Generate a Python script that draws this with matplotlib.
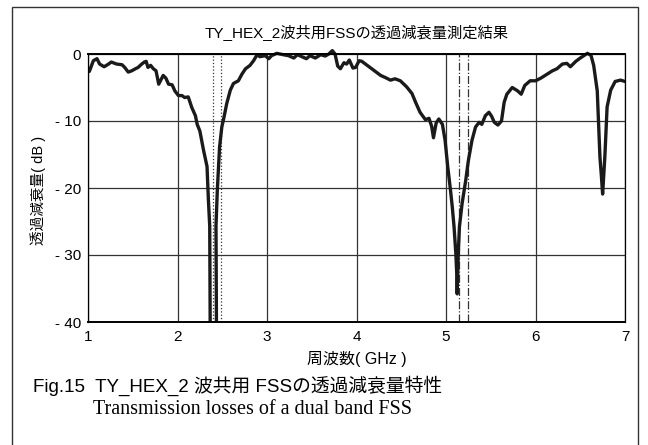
import matplotlib
matplotlib.use("Agg")
import matplotlib.pyplot as plt
from matplotlib.patches import Rectangle

plt.rcParams['font.family'] = ['Liberation Sans', 'Noto Sans CJK JP']

# 測定データ (周波数 GHz, 透過減衰量 dB)
freq = [1.00, 1.015, 1.06, 1.10, 1.13, 1.18, 1.23, 1.26, 1.32, 1.38, 1.41, 1.45,
        1.49, 1.53, 1.56, 1.60, 1.63, 1.65, 1.67, 1.70, 1.73, 1.76, 1.79, 1.82,
        1.84, 1.87, 1.90, 1.94, 1.97, 2.01, 2.05, 2.08, 2.12, 2.16, 2.20, 2.22,
        2.25, 2.29, 2.33, 2.345, 2.36, 2.365, 2.40, 2.435, 2.43, 2.445, 2.47,
        2.495, 2.52, 2.55, 2.59, 2.625, 2.68, 2.72, 2.76, 2.81, 2.85, 2.89, 2.92,
        2.98, 3.02, 3.05, 3.11, 3.18, 3.24, 3.30, 3.34, 3.39, 3.44, 3.48, 3.54,
        3.60, 3.65, 3.69, 3.73, 3.76, 3.79, 3.82, 3.86, 3.89, 3.92, 3.96, 3.99,
        4.03, 4.06, 4.12, 4.19, 4.27, 4.32, 4.38, 4.43, 4.49, 4.56, 4.62, 4.66,
        4.71, 4.77, 4.81, 4.84, 4.86, 4.89, 4.92, 4.96, 4.99, 5.02, 5.05, 5.07,
        5.09, 5.11, 5.12, 5.125, 5.135, 5.15, 5.18, 5.22, 5.25, 5.29, 5.33, 5.37,
        5.40, 5.44, 5.48, 5.51, 5.54, 5.58, 5.62, 5.65, 5.68, 5.74, 5.80, 5.84,
        5.88, 5.94, 6.00, 6.06, 6.13, 6.19, 6.24, 6.30, 6.35, 6.39, 6.45, 6.50,
        6.58, 6.62, 6.65, 6.69, 6.72, 6.735, 6.75, 6.775, 6.80, 6.84, 6.89, 6.95,
        7.00]
loss = [-2.2, -2.6, -1.0, -0.7, -1.5, -1.9, -1.5, -1.2, -1.5, -1.6, -2.0, -2.7,
        -2.5, -2.2, -2.0, -1.5, -1.2, -1.1, -2.0, -1.7, -2.2, -2.5, -4.5, -3.7,
        -3.2, -3.6, -4.5, -4.6, -5.5, -6.2, -6.2, -6.5, -6.4, -8.0, -9.2, -10.5,
        -11.5, -14.3, -16.8, -21.7, -25.7, -40.0, -50.0, -40.0, -25.7, -20.3, -13.9,
        -10.9, -9.4, -7.4, -5.4, -4.4, -4.0, -3.0, -2.2, -1.7, -1.0, -0.1, -0.4,
        -0.25, -0.7, -0.25, 0.1, -0.1, -0.25, -0.6, -0.1, -0.4, -0.7, -0.25, -0.6,
        -0.1, -0.3, 0.0, 0.5, 0.0, -1.8, -2.2, -1.3, -1.5, -0.9, -2.1, -2.0,
        -1.0, -1.1, -1.7, -2.4, -3.2, -3.5, -3.9, -3.7, -4.0, -4.9, -5.9, -7.2,
        -8.7, -9.8, -9.6, -10.8, -12.5, -10.3, -9.7, -10.5, -12.9, -16.9, -20.3, -22.8,
        -25.8, -29.8, -32.8, -35.8, -30.4, -25.8, -22.3, -18.9, -15.9, -12.9, -10.9, -10.2,
        -10.5, -9.2, -8.7, -9.3, -10.2, -10.6, -10.0, -7.2, -6.0, -5.0, -5.5, -6.0,
        -4.7, -4.0, -4.0, -3.6, -3.0, -2.5, -2.2, -1.5, -1.4, -1.9, -1.1, -0.6,
        0.1, -0.2, -1.7, -5.5, -15.4, -18.0, -20.9, -15.3, -7.9, -5.4, -4.1, -3.9,
        -4.1]

band_24 = [2.4, 2.4835]
band_5 = [5.15, 5.25]

xticks = [1, 2, 3, 4, 5, 6, 7]
yticks = [0, -10, -20, -30, -40]
ylabels = ['0', '- 10', '- 20', '- 30', '- 40']

fig = plt.figure(figsize=(6.48, 4.45), dpi=100)
ax = fig.add_axes([88 / 648, 1 - 322 / 445, 537 / 648, 268 / 445])

ax.set_xlim(1, 7)
ax.set_ylim(-40, 0)
ax.set_xticks(xticks)
ax.set_xticklabels([str(t) for t in xticks])
ax.set_yticks(yticks)
ax.set_yticklabels(ylabels)
ax.tick_params(length=0, labelsize=11, pad=5)
ax.tick_params(axis='x', pad=6)
ax.grid(True, color='#333333', linewidth=0.9)
ax.set_axisbelow(True)
for side in ['top', 'bottom']:
    ax.spines[side].set_linewidth(1.4)
for side in ['left', 'right']:
    ax.spines[side].set_linewidth(0.9)

for f in band_24:
    ax.axvline(f, color='#333333', linestyle=':', linewidth=0.9)
for f in band_5:
    ax.axvline(f, color='#333333', linestyle='-.', linewidth=0.9)

line, = ax.plot(freq, loss, color='#1a1a1a', linewidth=2.4,
                solid_joinstyle='round', solid_capstyle='round')
# 上側は0dBを少し超える部分を描くため、下側だけ切る
clip = Rectangle((1, -40), 6, 42, transform=ax.transData)
line.set_clip_path(clip)

ax.set_xlabel('周波数( GHz )', fontsize=11.5, labelpad=5)
fig.text(38 / 648, 1 - 190 / 445, '透過減衰量( dB )', rotation=90,
         ha='center', va='center', fontsize=10.5)

fig.text(357 / 648, 1 - 33 / 445, 'TY_HEX_2波共用FSSの透過減衰量測定結果',
         ha='center', va='center', fontsize=11)
fig.text(33 / 648, 1 - 386 / 445, 'Fig.15  TY_HEX_2 波共用 FSSの透過減衰量特性',
         ha='left', va='center', fontsize=13.5)
fig.text(93 / 648, 1 - 410 / 445, 'Transmission losses of a dual band FSS',
         ha='left', va='center', fontsize=14.5, family='Liberation Serif')

# 外枠
fig.patches.append(Rectangle((11.5 / 648, -0.05), 626 / 648, 1.05 - 7 / 445,
                             transform=fig.transFigure, fill=False,
                             edgecolor='#333333', linewidth=1.0))

fig.savefig('out.png', dpi=100)
